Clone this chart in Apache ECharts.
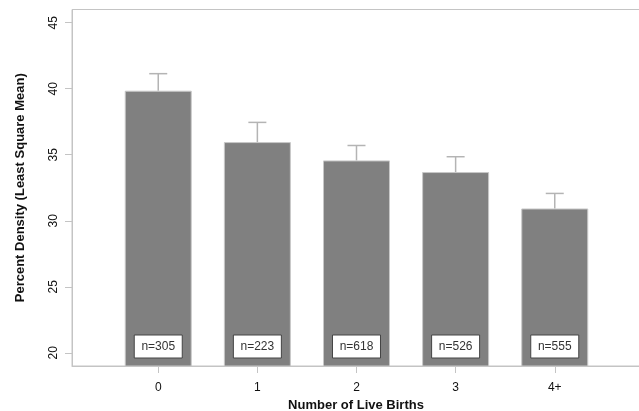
<!DOCTYPE html>
<html>
<head>
<meta charset="utf-8">
<script src="https://cdn.jsdelivr.net/npm/echarts@6/dist/echarts.min.js"></script>
<style>html,body{margin:0;padding:0;background:#fff;}#c{width:639px;height:411px;}</style>
</head>
<body>
<div id="c"></div>
<script>
var categories = ['0', '1', '2', '3', '4+'];
var means = [39.85, 35.96, 34.57, 33.69, 30.93];
var upper = [41.14, 37.45, 35.70, 34.85, 32.07];
var counts = ['n=305', 'n=223', 'n=618', 'n=526', 'n=555'];
var yTicks = [20, 25, 30, 35, 40, 45];

var idx = categories.map(function (c, i) { return i; });
var font = 'Liberation Sans, Arial, Helvetica, sans-serif';
var axisGray = '#c4c4c4';

var chart = echarts.init(document.getElementById('c'), null, {renderer: 'canvas'});
chart.setOption({
  animation: false,
  backgroundColor: '#fff',
  grid: {left: 72, right: -1, top: 9.5, bottom: 45, show: true, borderColor: axisGray, borderWidth: 1,
    backgroundColor: 'transparent', containLabel: false, outerBoundsMode: 'none'},
  xAxis: {
    type: 'value', min: -0.87, max: 4.86,
    name: 'Number of Live Births', nameLocation: 'middle', nameGap: 32,
    nameTextStyle: {fontFamily: font, fontSize: 13, fontWeight: 'bold', color: '#111'},
    axisLine: {show: true, onZero: false, lineStyle: {color: axisGray, width: 1}},
    axisTick: {show: true, length: 7, lineStyle: {color: axisGray, width: 1}, customValues: idx},
    axisLabel: {show: true, customValues: idx, margin: 16, fontFamily: font, fontSize: 12, color: '#111',
      formatter: function (v) { return categories[Math.round(v)]; }},
    splitLine: {show: false}
  },
  yAxis: {
    type: 'value', min: 19, max: 46,
    name: 'Percent Density (Least Square Mean)', nameLocation: 'middle', nameGap: 45, nameRotate: 90,
    nameTextStyle: {fontFamily: font, fontSize: 13, fontWeight: 'bold', color: '#111'},
    axisLine: {show: true, onZero: false, lineStyle: {color: axisGray, width: 1}},
    axisTick: {show: true, length: 7, lineStyle: {color: axisGray, width: 1}, customValues: yTicks},
    axisLabel: {show: true, customValues: yTicks, rotate: 90, margin: 12, fontFamily: font, fontSize: 12, color: '#111'},
    splitLine: {show: false}
  },
  series: [
    {
      type: 'bar', barWidth: 67,
      data: means.map(function (m, i) { return [i, m]; }),
      itemStyle: {color: '#808080', borderColor: '#c8c8c8', borderWidth: 1},
      z: 2
    },
    {
      type: 'custom',
      data: upper.map(function (u, i) { return [i, means[i], u]; }),
      renderItem: function (params, api) {
        var x = api.value(0);
        var p0 = api.coord([x, api.value(1)]);
        var p1 = api.coord([x, api.value(2)]);
        var cap = 9;
        return {
          type: 'group',
          children: [
            {type: 'line', shape: {x1: p0[0], y1: p0[1], x2: p1[0], y2: p1[1]}, style: {stroke: '#b4b4b4', lineWidth: 1.5}},
            {type: 'line', shape: {x1: p1[0] - cap, y1: p1[1], x2: p1[0] + cap, y2: p1[1]}, style: {stroke: '#b4b4b4', lineWidth: 1.5}}
          ]
        };
      },
      z: 3
    },
    {
      type: 'custom',
      data: counts.map(function (c, i) { return [i, 19]; }),
      renderItem: function (params, api) {
        var i = params.dataIndex;
        var p = api.coord([api.value(0), api.value(1)]);
        var w = 48, h = 23;
        var cx = p[0], cy = p[1] - 19.5;
        return {
          type: 'group',
          children: [
            {type: 'rect', shape: {x: cx - w / 2, y: cy - h / 2, width: w, height: h}, style: {fill: '#fff', stroke: '#444', lineWidth: 1}},
            {type: 'text', style: {x: cx, y: cy, text: counts[i], align: 'center', verticalAlign: 'middle', fontFamily: font, fontSize: 12, fill: '#333'}}
          ]
        };
      },
      z: 4
    }
  ]
});
</script>
</body>
</html>
